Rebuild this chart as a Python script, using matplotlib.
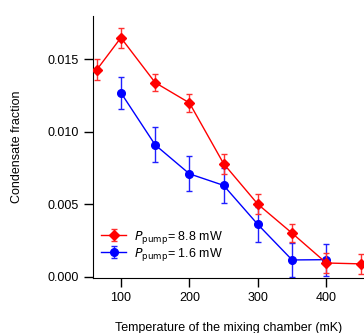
import matplotlib
matplotlib.use("Agg")
import matplotlib.pyplot as plt

plt.rcParams["font.family"] = ["Liberation Sans", "DejaVu Sans"]

# 8.8 mW pump power (red diamonds)
temp_hi = [65, 100, 150, 200, 250, 300, 350, 400, 450]
frac_hi = [0.0143, 0.0165, 0.0134, 0.0120, 0.0078, 0.0050, 0.0030, 0.00094, 0.00088]
err_hi = [0.0007, 0.0007, 0.0006, 0.0006, 0.0007, 0.0007, 0.0006, 0.0007, 0.0007]

# 1.6 mW pump power (blue circles)
temp_lo = [100, 150, 200, 250, 300, 350, 400]
frac_lo = [0.0127, 0.0091, 0.0071, 0.0063, 0.0036, 0.00115, 0.00117]
err_lo = [0.0011, 0.0012, 0.0012, 0.0012, 0.0012, 0.0012, 0.0011]

xticks = [100, 200, 300, 400]
yticks = [0.000, 0.005, 0.010, 0.015]

fig = plt.figure(figsize=(3.64, 3.33), dpi=100)
ax = fig.add_axes([0.255, 0.165, 0.745, 0.787])

ax.errorbar(temp_hi, frac_hi, yerr=err_hi, color="#ff0000", ecolor="#ff3030",
            marker="D", markersize=5, lw=1, elinewidth=1, capsize=2.5,
            label=r"$\it{P}_{\rm pump}$= 8.8 mW", zorder=3)
ax.errorbar(temp_lo, frac_lo, yerr=err_lo, color="#0000ff", ecolor="#2020ff",
            marker="o", markersize=5.5, lw=1, elinewidth=1, capsize=2.5,
            label=r"$\it{P}_{\rm pump}$= 1.6 mW", zorder=2)

ax.set_xlim(59, 455)
ax.set_ylim(-0.0001, 0.018)
ax.set_xticks(xticks)
ax.set_yticks(yticks)
ax.set_yticklabels([f"{v:.3f}" for v in yticks])
ax.tick_params(labelsize=9, length=6.5, width=1, direction="out", pad=3.5)

for side in ["top", "right"]:
    ax.spines[side].set_visible(False)

ax.set_xlabel("Temperature of the mixing chamber (mK)", fontsize=9, labelpad=13)
ax.set_ylabel("Condensate fraction", fontsize=9, labelpad=18)

ax.legend(loc="lower left", bbox_to_anchor=(0.012, 0.04), frameon=False,
          fontsize=9, handlelength=2, handletextpad=0.6, labelspacing=0.0,
          borderaxespad=0.2, borderpad=0.2)

fig.savefig("out.png", dpi=100)
